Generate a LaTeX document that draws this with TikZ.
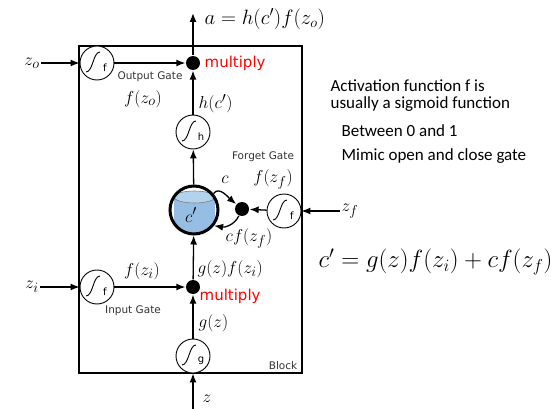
\documentclass[tikz,border=0pt]{standalone}
\usepackage{fontspec}
\setsansfont{Carlito}
\newfontfamily\gatefont{DejaVu Sans}
\usetikzlibrary{arrows.meta,positioning}
\definecolor{cylblue}{RGB}{150,190,228}
\definecolor{cyltop}{RGB}{178,210,238}

\begin{document}
\begin{tikzpicture}[x=1pt,y=-1pt,>={Latex[length=9pt,width=7pt]},line width=1.3pt,
    sig/.style={circle,draw,line width=0.9pt,minimum size=34pt,inner sep=0pt,fill=white,
      path picture={
        \draw[line width=0.9pt] ([shift={(-11pt,-9pt)}]path picture bounding box.center)
          .. controls +(7pt,0pt) and +(-7pt,0pt) .. ([shift={(3pt,11pt)}]path picture bounding box.center);
        \node[font=\gatefont\fontsize{10}{10}\selectfont,inner sep=0pt]
          at ([shift={(8pt,-5pt)}]path picture bounding box.center) {#1};}},
    dot/.style={circle,fill,inner sep=0pt,minimum size=14pt},
    lbl/.style={font=\fontsize{19}{19}\selectfont,inner sep=1pt},
    gate/.style={font=\gatefont\fontsize{10.5}{10.5}\selectfont,text=black!80,inner sep=0pt},
    mul/.style={font=\gatefont\fontsize{15}{15}\selectfont,text=red,anchor=west,inner sep=0pt},
    note/.style={font=\sffamily\fontsize{17}{17}\selectfont,anchor=west,inner sep=0pt}]

  \useasboundingbox (0,0) rectangle (554,409);

  % block
  \draw[line width=1.8pt] (79,46) rectangle (302,373);
  \node[gate] (blk) at (283,366) {Block};

  % cell
  \node[circle,draw,line width=3pt,minimum size=48pt,inner sep=0pt,fill=white,
    path picture={
      \fill[cylblue] ([shift={(-20pt,13pt)}]path picture bounding box.center)
        rectangle ([shift={(21pt,-30pt)}]path picture bounding box.center);
      \draw[gray,line width=0.6pt,fill=cyltop]
        ([shift={(0.5pt,13pt)}]path picture bounding box.center) ellipse [x radius=20.5pt,y radius=6pt];}]
    (cp) at (194,210) {};
  \node[lbl] at (191,215) {$c'$};

  \node[sig=h]   (hc) at (193,132) {};
  \node[sig=g]   (gc) at (193,356) {};
  \node[sig=f]   (of) at (97,63)   {};
  \node[sig=f]   (if) at (97,287)  {};
  \node[sig=f]   (ff) at (284,211) {};
  \node[dot]     (od) at (193,63)  {};
  \node[dot]     (id) at (193,287) {};
  \node[dot]     (fd) at (242,209) {};

  \node[lbl] (zo) at (32,63)  {$z_o$};
  \node[lbl] (zi) at (32,287) {$z_i$};
  \node[lbl] (zf) at (350,211) {$z_f$};
  \node[lbl] (z)  at (207,399) {$z$};
  \coordinate (aout) at (193,13);
  \coordinate (zin)  at (193,409);

  \path[->] (zo) edge (of)
            (of) edge (od)
            (hc) edge (od)
            (od) edge (aout)
            (cp) edge (hc)
            (id) edge (cp)
            (gc) edge (id)
            (zin) edge (gc)
            (zi) edge (if)
            (if) edge (id)
            (zf) edge (ff)
            (ff) edge (fd)
            (cp.40) edge[out=55,in=140] (fd)
            (fd) edge[out=-115,in=-10] (cp.-38);

  % labels
  \node[lbl,anchor=west,font=\fontsize{20}{20}\selectfont] (alab) at (203,19) {$a = h(c')f(z_o)$};
  \node[mul] (omul) at (204,63) {multiply};
  \node[mul] (imul) at (199,296) {multiply};
  \node[gate] (ogate) at (150,77) {Output Gate};
  \node[gate] (igate) at (133,311) {Input Gate};
  \node[gate] (fgate) at (263,157) {Forget Gate};
  \node[lbl] at (143,99) {$f(z_o)$};
  \node[lbl,anchor=west] at (197,104) {$h(c')$};
  \node[lbl] at (225,180) {$c$};
  \node[lbl] at (273,179) {$f(z_f)$};
  \node[lbl] at (249,238) {$cf(z_f)$};
  \node[lbl,anchor=west] at (196,269) {$g(z)f(z_i)$};
  \node[lbl] at (142,271) {$f(z_i)$};
  \node[lbl,anchor=west] at (197,323) {$g(z)$};

  % notes
  \node[note] at (330,86)  {Activation function f is};
  \node[note] at (330,104) {usually a sigmoid function};
  \node[note] at (341,131) {Between 0 and 1};
  \node[note] at (341,156) {Mimic open and close gate};
  \node[anchor=west,font=\fontsize{23}{23}\selectfont,inner sep=0pt] (eq) at (318,262)
    {$c' = g(z)f(z_i) + cf(z_f)$};

\end{tikzpicture}
\end{document}
